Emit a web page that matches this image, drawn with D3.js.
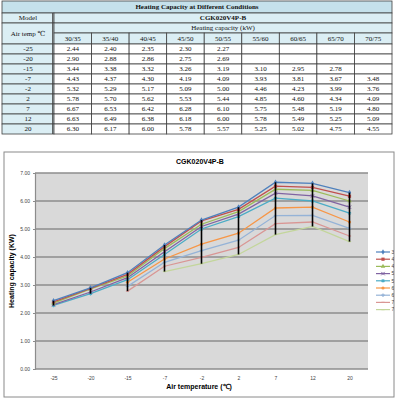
<!DOCTYPE html>
<html>
<head>
<meta charset="utf-8">
<script src="https://cdn.jsdelivr.net/npm/d3@7"></script>
<style>
  body { margin: 0; background: #fff; }
  svg { display: block; }
</style>
</head>
<body>
<div id="chart"></div>
<script>
// air temperatures (rows / x categories)
var airTemps = ["-25", "-20", "-15", "-7", "-2", "2", "7", "12", "20"];
// water in/out columns
var waterCols = ["30/35", "35/40", "40/45", "45/50", "50/55", "55/60", "60/65", "65/70", "70/75"];
var legendNames = ["35", "40", "45", "50", "55", "60", "65", "70", "75"];

// heating capacity (kW), null = no data
var cap35 = [2.44, 2.90, 3.44, 4.43, 5.32, 5.78, 6.67, 6.63, 6.30];
var cap40 = [2.40, 2.88, 3.38, 4.37, 5.29, 5.70, 6.53, 6.49, 6.17];
var cap45 = [2.35, 2.86, 3.32, 4.30, 5.17, 5.62, 6.42, 6.38, 6.00];
var cap50 = [2.30, 2.75, 3.26, 4.19, 5.09, 5.53, 6.28, 6.18, 5.78];
var cap55 = [2.27, 2.69, 3.19, 4.09, 5.00, 5.44, 6.10, 6.00, 5.57];
var cap60 = [null, null, 3.10, 3.93, 4.46, 4.85, 5.75, 5.78, 5.25];
var cap65 = [null, null, 2.95, 3.81, 4.23, 4.60, 5.48, 5.49, 5.02];
var cap70 = [null, null, 2.78, 3.67, 3.99, 4.34, 5.19, 5.25, 4.75];
var cap75 = [null, null, null, 3.48, 3.76, 4.09, 4.80, 5.09, 4.55];

var yTicks = [0, 1, 2, 3, 4, 5, 6, 7];

var series = [cap35, cap40, cap45, cap50, cap55, cap60, cap65, cap70, cap75];
var colors = ["#4F81BD", "#C0504D", "#9BBB59", "#8064A2", "#4BACC6", "#F79646", "#95B3D7", "#D99694", "#C3D69B"];
var markers = ["diamond", "square", "triangle", "cross", "star", "circle", "plus", "dash", "dash"];

var svg = d3.select("#chart").append("svg")
    .attr("width", 397)
    .attr("height", 400);

/* ---------- table ---------- */
var serif = "'Liberation Serif', 'DejaVu Serif', serif";
var tx0 = 2, tLeftW = 52, tx1 = 392;
var colW = (tx1 - tx0 - tLeftW) / waterCols.length;
var rowY = [1, 13, 23, 33, 44];
var rowH = 10;
var headBlue = "#dbeef4", titleBlue = "#c5e1eb", lineCol = "#404040";

var tbl = svg.append("g").attr("font-family", serif).attr("font-size", 7);

function cell(x, y, w, h, fill, text, bold) {
  tbl.append("rect")
      .attr("x", x).attr("y", y).attr("width", w).attr("height", h)
      .attr("fill", fill).attr("stroke", lineCol).attr("stroke-width", 0.8);
  if (text != null) {
    tbl.append("text")
        .attr("x", x + w / 2).attr("y", y + h / 2 + 2.4)
        .attr("text-anchor", "middle")
        .attr("font-weight", bold ? "bold" : null)
        .attr("fill", "#111")
        .text(text);
  }
}

cell(tx0, rowY[0], tx1 - tx0, rowY[1] - rowY[0], titleBlue, "Heating Capacity at Different Conditions", true);
cell(tx0, rowY[1], tLeftW, rowY[2] - rowY[1], headBlue, "Model");
cell(tx0 + tLeftW, rowY[1], tx1 - tx0 - tLeftW, rowY[2] - rowY[1], headBlue, "CGK020V4P-B", true);
cell(tx0, rowY[2], tLeftW, rowY[4] - rowY[2], headBlue, "Air temp \u2103");
cell(tx0 + tLeftW, rowY[2], tx1 - tx0 - tLeftW, rowY[3] - rowY[2], headBlue, "Heating capacity (kW)");
waterCols.forEach(function(c, i) {
  cell(tx0 + tLeftW + i * colW, rowY[3], colW, rowY[4] - rowY[3], headBlue, c);
});
airTemps.forEach(function(t, r) {
  var y = rowY[4] + r * rowH;
  cell(tx0, y, tLeftW, rowH, headBlue, t);
  series.forEach(function(s, i) {
    cell(tx0 + tLeftW + i * colW, y, colW, rowH, "#fff", s[r] == null ? null : s[r].toFixed(2));
  });
});
// double line after first column
tbl.append("line")
    .attr("x1", tx0 + tLeftW - 1.5).attr("x2", tx0 + tLeftW - 1.5)
    .attr("y1", rowY[1]).attr("y2", rowY[4] + rowH * airTemps.length)
    .attr("stroke", lineCol).attr("stroke-width", 0.8);

/* ---------- chart ---------- */
var sans = "'Liberation Sans', Arial, sans-serif";
var frame = {x: 4, y: 152, w: 390, h: 245};
var plot = {left: 35, right: 368, top: 173, bottom: 369};

svg.append("defs").append("clipPath").attr("id", "frameClip")
  .append("rect").attr("x", frame.x).attr("y", frame.y).attr("width", frame.w).attr("height", frame.h);

svg.append("rect")
    .attr("x", frame.x).attr("y", frame.y).attr("width", frame.w).attr("height", frame.h)
    .attr("fill", "#fff").attr("stroke", "#8a8a8a").attr("stroke-width", 1);

var x = d3.scalePoint().domain(airTemps).range([plot.left, plot.right]).padding(0.5);
var y = d3.scaleLinear().domain([0, 7]).range([plot.bottom, plot.top]);

svg.append("rect")
    .attr("x", plot.left).attr("y", plot.top)
    .attr("width", plot.right - plot.left).attr("height", plot.bottom - plot.top)
    .attr("fill", "#d9d9d9");

// grid lines
svg.append("g").selectAll("line")
    .data(yTicks)
  .enter().append("line")
    .attr("x1", plot.left).attr("x2", plot.right)
    .attr("y1", function(d) { return y(d); })
    .attr("y2", function(d) { return y(d); })
    .attr("stroke", "#8c8c8c").attr("stroke-width", 1.6);

var yAxis = d3.axisLeft(y).tickValues(yTicks).tickFormat(d3.format(".2f")).tickSize(2).tickPadding(3);
var gy = svg.append("g")
    .attr("transform", "translate(" + plot.left + ",0)")
    .call(yAxis);
gy.select(".domain").attr("stroke", "#8c8c8c").attr("stroke-width", 1.2);
gy.selectAll(".tick line").attr("stroke", "#8c8c8c");
gy.selectAll("text").attr("font-family", sans).attr("font-size", 5).attr("fill", "#444");

var xAxis = d3.axisBottom(x).tickSize(0).tickPadding(7);
var gx = svg.append("g")
    .attr("transform", "translate(0," + plot.bottom + ")")
    .call(xAxis);
gx.select(".domain").remove();
gx.selectAll("text").attr("font-family", sans).attr("font-size", 5).attr("fill", "#444");

var line = d3.line()
    .defined(function(d) { return d.v != null; })
    .x(function(d) { return x(d.t); })
    .y(function(d) { return y(d.v); });

function drawMarker(g, kind, cx, cy, color) {
  var s = 1.6;
  if (kind === "diamond") {
    g.append("path").attr("d", d3.symbol(d3.symbolDiamond, 9)()).attr("transform", "translate(" + cx + "," + cy + ")").attr("fill", color);
  } else if (kind === "square") {
    g.append("rect").attr("x", cx - s).attr("y", cy - s).attr("width", 2 * s).attr("height", 2 * s).attr("fill", color);
  } else if (kind === "triangle") {
    g.append("path").attr("d", d3.symbol(d3.symbolTriangle, 9)()).attr("transform", "translate(" + cx + "," + cy + ")").attr("fill", color);
  } else if (kind === "cross") {
    g.append("path").attr("d", d3.symbol(d3.symbolX, 9)()).attr("transform", "translate(" + cx + "," + cy + ")")
        .attr("fill", "none").attr("stroke", color).attr("stroke-width", 1);
  } else if (kind === "star") {
    g.append("path").attr("d", d3.symbol(d3.symbolAsterisk, 9)()).attr("transform", "translate(" + cx + "," + cy + ")")
        .attr("fill", "none").attr("stroke", color).attr("stroke-width", 1.1);
  } else if (kind === "circle") {
    g.append("circle").attr("cx", cx).attr("cy", cy).attr("r", 1.6).attr("fill", color);
  } else if (kind === "plus") {
    g.append("path").attr("d", d3.symbol(d3.symbolCross, 7)()).attr("transform", "translate(" + cx + "," + cy + ")").attr("fill", color);
  } else {
    g.append("line").attr("x1", cx - 1.6).attr("x2", cx + 1.6).attr("y1", cy).attr("y2", cy)
        .attr("stroke", color).attr("stroke-width", 1.2);
  }
}

// draw series from last to first so blue ends on top
for (var k = series.length - 1; k >= 0; k--) {
  var pts = airTemps.map(function(t, i) { return {t: t, v: series[k][i]}; });
  var g = svg.append("g");
  g.append("path")
      .datum(pts)
      .attr("d", line)
      .attr("fill", "none")
      .attr("stroke", colors[k])
      .attr("stroke-width", 1.3);
  pts.filter(function(d) { return d.v != null; }).forEach(function(d) {
    drawMarker(g, markers[k], x(d.t), y(d.v), colors[k]);
  });
}

// high-low lines
var hilo = airTemps.map(function(t, i) {
  var vals = series.map(function(s) { return s[i]; }).filter(function(v) { return v != null; });
  return {t: t, lo: d3.min(vals), hi: d3.max(vals)};
});
svg.append("g").selectAll("line")
    .data(hilo)
  .enter().append("line")
    .attr("x1", function(d) { return x(d.t); })
    .attr("x2", function(d) { return x(d.t); })
    .attr("y1", function(d) { return y(d.lo); })
    .attr("y2", function(d) { return y(d.hi); })
    .attr("stroke", "#000").attr("stroke-width", 1.6);

// titles
svg.append("text")
    .attr("x", 200).attr("y", 163.5)
    .attr("text-anchor", "middle")
    .attr("font-family", sans).attr("font-size", 7).attr("font-weight", "bold")
    .text("CGK020V4P-B");

svg.append("text")
    .attr("x", 199).attr("y", 388.5)
    .attr("text-anchor", "middle")
    .attr("font-family", sans).attr("font-size", 7).attr("font-weight", "bold")
    .text("Air temperature  (\u2103)");

svg.append("text")
    .attr("transform", "translate(14,271) rotate(-90)")
    .attr("text-anchor", "middle")
    .attr("font-family", sans).attr("font-size", 7).attr("font-weight", "bold")
    .text("Heating capacity (KW)");

// legend (clipped by chart frame)
var legend = svg.append("g").attr("clip-path", "url(#frameClip)");
legendNames.forEach(function(name, i) {
  var ly = 252 + i * 7.2;
  legend.append("line")
      .attr("x1", 376).attr("x2", 390).attr("y1", ly).attr("y2", ly)
      .attr("stroke", colors[i]).attr("stroke-width", 1.2);
  drawMarker(legend, markers[i], 383, ly, colors[i]);
  legend.append("text")
      .attr("x", 391.5).attr("y", ly + 1.8)
      .attr("font-family", sans).attr("font-size", 5).attr("fill", "#444")
      .text(name);
});
</script>
</body>
</html>
